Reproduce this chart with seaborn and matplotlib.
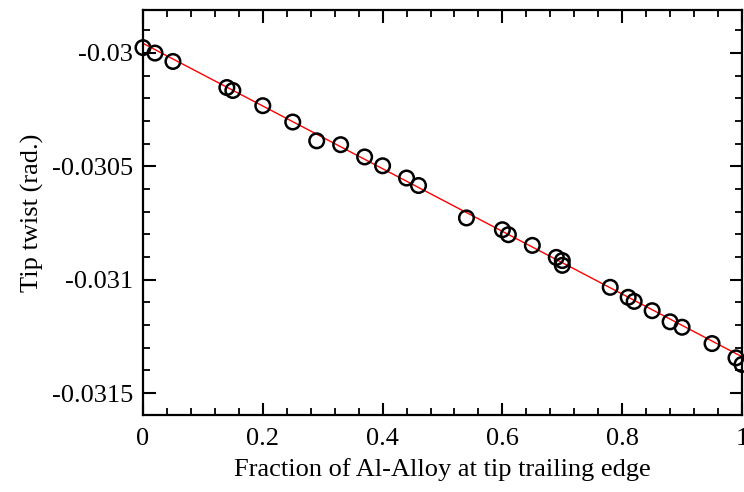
import matplotlib
matplotlib.use("Agg")
import matplotlib.pyplot as plt
from matplotlib.ticker import MultipleLocator, FixedLocator
import seaborn as sns
import pandas as pd

# Data
fraction = [0.0, 0.02, 0.05, 0.14, 0.15, 0.20, 0.25, 0.29, 0.33, 0.37, 0.40,
            0.44, 0.46, 0.54, 0.60, 0.61, 0.65, 0.69, 0.70, 0.70, 0.78, 0.81,
            0.82, 0.85, 0.88, 0.90, 0.95, 0.99, 1.0]
tip_twist = [-0.029977, -0.030001, -0.030038, -0.030153, -0.030166, -0.030233,
             -0.030305, -0.030388, -0.030405, -0.030459, -0.030498, -0.030552,
             -0.030585, -0.030728, -0.030780, -0.030802, -0.030849, -0.030902,
             -0.030916, -0.030937, -0.031034, -0.031078, -0.031096, -0.031137,
             -0.031186, -0.031210, -0.031282, -0.031345, -0.031374]
fit_x = [0.0, 1.0]
fit_y = [-0.029958, -0.031340]

x_ticks = [0, 0.2, 0.4, 0.6, 0.8, 1.0]
x_tick_labels = ["0", "0.2", "0.4", "0.6", "0.8", "1"]
y_ticks = [-0.03, -0.0305, -0.031, -0.0315]
y_tick_labels = ["-0.03", "-0.0305", "-0.031", "-0.0315"]

df = pd.DataFrame({"x": fraction, "y": tip_twist})
fit = pd.DataFrame({"x": fit_x, "y": fit_y})

sns.set_theme(style="ticks")
plt.rcParams["font.family"] = ["Liberation Serif", "DejaVu Serif"]

FS = 19

fig = plt.figure(figsize=(7.44, 4.92), dpi=100)
ax = fig.add_axes([0.1922, 0.1565, 0.8051, 0.8232])

sns.lineplot(data=fit, x="x", y="y", ax=ax, color="#ff0000", linewidth=1.0, zorder=2)
sns.scatterplot(data=df, x="x", y="y", ax=ax, marker="o", s=110,
                facecolors="none", edgecolor="black", linewidth=1.8,
                zorder=3, clip_on=False)

ax.set_xlim(0, 1)
ax.set_ylim(-0.031597, -0.029811)

ax.xaxis.set_major_locator(FixedLocator(x_ticks))
ax.set_xticklabels(x_tick_labels)
ax.xaxis.set_minor_locator(MultipleLocator(0.04))
ax.yaxis.set_major_locator(FixedLocator(y_ticks))
ax.set_yticklabels(y_tick_labels)
ax.yaxis.set_minor_locator(MultipleLocator(0.0001))

ax.tick_params(which="both", direction="in", top=True, right=True,
               color="black", labelcolor="black", labelsize=FS)
ax.tick_params(which="major", length=9, width=1.5)
ax.tick_params(which="minor", length=5, width=1.3)
ax.tick_params(axis="x", which="major", pad=9)
ax.tick_params(axis="y", which="major", pad=7)

for sp in ax.spines.values():
    sp.set_visible(True)
    sp.set_linewidth(1.6)
    sp.set_color("black")

ax.set_xlabel("Fraction of Al-Alloy at tip trailing edge", fontsize=FS, color="black", labelpad=6)
ax.set_ylabel("Tip twist (rad.)", fontsize=FS, color="black", labelpad=6)

fig.savefig("out.png", dpi=100)
